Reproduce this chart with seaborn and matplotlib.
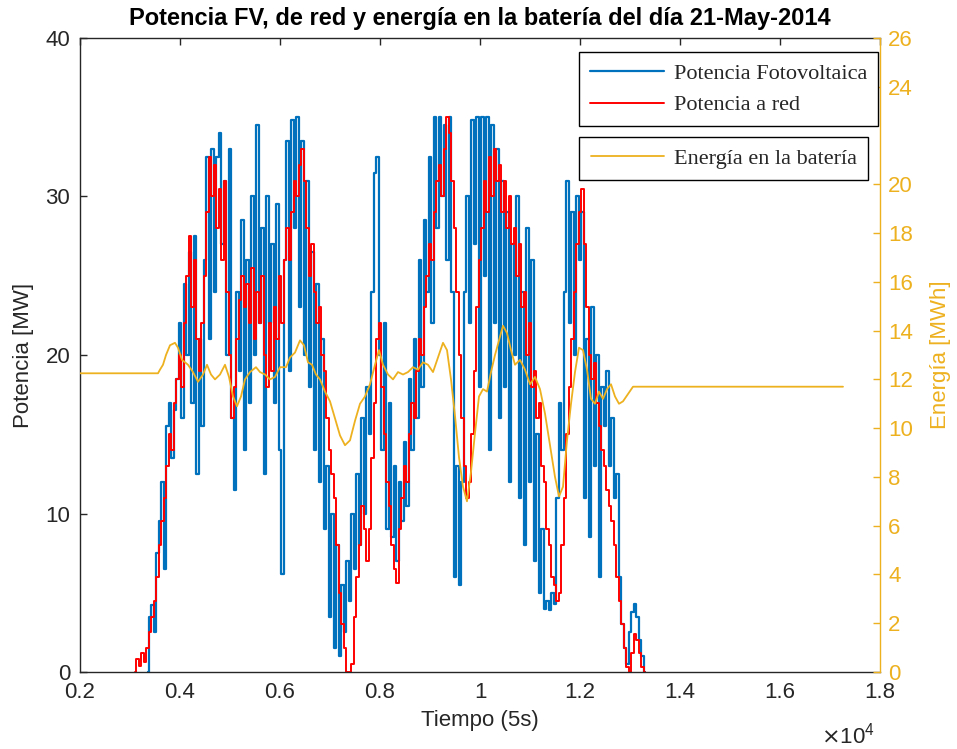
import numpy as np
import matplotlib
matplotlib.use("Agg")
import matplotlib.pyplot as plt
import seaborn as sns
from matplotlib.font_manager import FontProperties

# ---------------- data ----------------
pv_start, pv_step = 3350, 50
pv_power = [0, 3.5, 4.2, 2.5, 7.5, 9.5, 12, 6.5, 15.5, 17,
            13.5, 16.5, 18.5, 22, 16, 24.5, 20, 26.5, 17, 27.5,
            12.5, 21, 15.5, 26, 32.5, 21, 33, 24, 32.5, 34,
            27, 31, 20, 33, 16, 11.5, 24, 19, 28.5, 14,
            26, 17, 30, 20, 34.5, 22, 28, 12.5, 30, 22,
            27, 17, 29.5, 14, 6.2, 26, 33.5, 19, 34.8, 28,
            35, 23, 33.5, 20, 31, 18, 26.5, 14, 24.5, 12,
            21, 9, 13, 3.5, 10, 1.5, 8, 1, 5.5, 2.5,
            7, 4.5, 10, 6.5, 12.5, 8, 16, 10, 18, 15,
            24, 31.5, 32.5, 20, 14, 22, 9, 17, 8.5, 13,
            7, 12, 9.5, 14.5, 10.5, 18.5, 14, 21, 16, 26,
            18, 28.5, 24, 32.5, 22, 35, 28, 35, 30, 34.5,
            26, 35, 24, 6, 13, 5.5, 12, 24, 30, 22,
            34.8, 27, 35, 18, 35, 25, 35, 14, 34.5, 22,
            33, 16, 31, 18, 29, 12, 27, 20, 30, 11,
            24, 8, 28, 12, 26, 7, 15, 5, 9, 4,
            4.5, 3.9, 5, 4.3, 11, 17, 14, 24, 31, 22,
            29, 20, 30, 26, 29, 11, 21, 8.5, 23, 13,
            20, 6, 18, 15.5, 19, 13, 16, 11, 12.5, 6,
            3, 1.5, 0.5, 2.5, 3.8, 4.3, 3.5, 2, 1, 0]

grid_start, grid_step = 3100, 50
grid_power = [0, 0.8, 0.4, 1.2, 0.6, 1.5, 2.5, 3.5, 4.5, 6,
              8, 9.5, 11, 13, 15, 14, 17, 18.5, 20, 18,
              22, 25, 27.5, 23, 26, 21, 19, 22, 25, 29,
              32.5, 30, 32, 28, 30.5, 26, 31, 24, 20, 16,
              18, 21, 23.5, 25, 23, 24.5, 22, 25.5, 21, 24,
              22, 25, 20, 18, 22, 19, 23, 21, 25, 22,
              26, 28, 26, 29, 31, 30, 32, 33, 31, 28,
              25, 27, 24, 22, 23, 20, 19, 16, 14, 12.5,
              11, 8, 5, 3, 1.5, 0, 0, 0.5, 3.5, 6,
              8, 10.5, 9, 7, 9, 13.5, 17, 21, 22, 18,
              15, 12, 10.5, 8, 6.5, 5.6, 9, 11, 13, 12,
              15, 17, 16, 19, 21, 20, 23, 25, 27, 26,
              29, 31, 32, 30, 33, 35, 34, 31, 28, 24,
              20, 16, 13, 11, 12, 15, 19, 23, 26, 28,
              31, 29, 32.5, 30, 33, 31, 32, 29, 31, 28,
              30, 27, 28, 25, 27, 23, 24, 20, 22, 18,
              19, 16, 17, 13, 12, 9, 8, 6, 5.5, 4.5,
              5, 8, 11, 15, 18, 21, 24, 27, 29, 30.5,
              27, 23, 20, 18.5, 19.5, 17, 15.5, 14, 13, 11.5,
              10.5, 9.5, 8, 6, 4.5, 3, 1.5, 0.3, 0, 1.2,
              2.4, 2.0, 1.2, 0.3, 0]

energy_time = [2000, 3560, 3600, 3660, 3720, 3800, 3900, 3960, 4040, 4160,
               4260, 4360, 4460, 4540, 4620, 4700, 4800, 4900, 4980, 5060,
               5140, 5220, 5300, 5400, 5520, 5600, 5700, 5800, 5900, 6000,
               6120, 6200, 6300, 6400, 6480, 6560, 6640, 6720, 6800, 6900,
               7000, 7100, 7200, 7300, 7400, 7500, 7600, 7700, 7800, 7900,
               7980, 8060, 8160, 8260, 8360, 8460, 8560, 8660, 8760, 8860,
               8960, 9060, 9160, 9260, 9340, 9420, 9500, 9580, 9660, 9740,
               9820, 9900, 9980, 10060, 10140, 10220, 10300, 10380, 10460, 10540,
               10620, 10700, 10800, 10900, 11000, 11100, 11200, 11300, 11400, 11500,
               11580, 11660, 11740, 11820, 11900, 11980, 12060, 12140, 12220, 12300,
               12380, 12460, 12540, 12620, 12700, 12780, 12860, 12960, 13060, 17260]
battery_energy = [12.25, 12.25, 12.4, 12.6, 13.0, 13.4, 13.5, 13.3, 12.8, 12.6,
                  12.3, 11.9, 12.2, 12.6, 12.2, 12.0, 12.2, 12.6, 12.1, 11.3,
                  10.9, 11.3, 12.0, 12.3, 12.5, 12.3, 12.2, 12.0, 12.1, 12.5,
                  12.5, 12.9, 13.1, 13.6, 13.4, 12.7, 12.6, 12.2, 12.0, 11.5,
                  11.1, 10.4, 9.7, 9.3, 9.5, 10.3, 11.0, 11.3, 11.8, 12.6,
                  13.2, 12.6, 12.2, 12.0, 12.3, 12.2, 12.3, 12.5, 12.4, 12.7,
                  12.6, 12.3, 12.9, 13.5, 13.2, 12.0, 10.5, 8.8, 7.6, 7.0,
                  8.2, 9.8, 11.3, 11.6, 11.5, 12.3, 13.0, 13.6, 14.2, 13.9,
                  13.2, 12.6, 12.8, 12.4, 11.8, 12.1, 11.6, 10.6, 9.3, 8.0,
                  7.2, 7.6, 9.5, 11.0, 12.3, 13.3, 13.2, 12.4, 11.2, 11.0,
                  11.5, 11.2, 11.6, 11.8, 11.3, 11.0, 11.1, 11.4, 11.7, 11.7]

x_ticks = [2000, 4000, 6000, 8000, 10000, 12000, 14000, 16000, 18000]
x_tick_labels = ["0.2", "0.4", "0.6", "0.8", "1", "1.2", "1.4", "1.6", "1.8"]
left_ticks = [0, 10, 20, 30, 40]
right_ticks = [0, 2, 4, 6, 8, 10, 12, 14, 16, 18, 20, 24, 26]

labels = ["Potencia Fotovoltaica", "Potencia a red", "Energía en la batería"]
title = "Potencia FV, de red y energía en la batería del día 21-May-2014"

# ---------------- style ----------------
sns.set_style("white")
plt.rcParams["font.family"] = ["Liberation Sans", "DejaVu Sans"]
plt.rcParams["axes.unicode_minus"] = False

BLUE = "#0072BD"
RED = "#FF0000"
YEL = "#EDB120"
GRAY = "#262626"
FS = 16

fig = plt.figure(figsize=(9.57, 7.49), dpi=100)
ax = fig.add_axes([80 / 957, 1 - 672 / 749, 800 / 957, 634 / 749])
ax2 = ax.twinx()

pv_time = pv_start + pv_step * np.arange(len(pv_power))
grid_time = grid_start + grid_step * np.arange(len(grid_power))

sns.lineplot(x=pv_time, y=pv_power, ax=ax, color=BLUE, linewidth=1.6,
             drawstyle="steps-mid", legend=False, estimator=None)
sns.lineplot(x=grid_time, y=grid_power, ax=ax, color=RED, linewidth=1.4,
             drawstyle="steps-mid", legend=False, estimator=None)
sns.lineplot(x=energy_time, y=battery_energy, ax=ax2, color=YEL, linewidth=1.3,
             legend=False, estimator=None)

ax.set_xlim(2000, 18000)
ax.set_ylim(0, 40)
ax2.set_ylim(0, 26)
ax.set_xticks(x_ticks)
ax.set_xticklabels(x_tick_labels)
ax.set_yticks(left_ticks)
ax2.set_yticks(right_ticks)

ax2.set_facecolor("none")
ax.set_facecolor("white")

for s in ("left", "bottom", "top"):
    ax.spines[s].set_color(GRAY)
    ax.spines[s].set_linewidth(1.0)
ax.spines["right"].set_visible(False)
for s in ("left", "bottom", "top"):
    ax2.spines[s].set_visible(False)
ax2.spines["right"].set_color(YEL)
ax2.spines["right"].set_linewidth(1.0)

ax.tick_params(axis="x", direction="in", length=5, width=1, colors=GRAY,
               labelsize=FS, top=True, pad=7)
ax.tick_params(axis="y", direction="in", length=5, width=1, colors=GRAY,
               labelsize=FS, pad=7)
ax2.tick_params(axis="y", direction="in", length=5, width=1, colors=YEL,
                labelsize=FS, labelcolor=YEL, pad=6)

ax.set_xlabel("Tiempo (5s)", fontsize=FS, color=GRAY, labelpad=5)
ax.set_ylabel("Potencia [MW]", fontsize=FS, color=GRAY, labelpad=8)
ax2.set_ylabel("Energía [MWh]", fontsize=FS, color=YEL, labelpad=12)
ax.set_title(title, fontsize=17, fontweight="bold", color="black", pad=9)

fig.text(848 / 957, 1 - 736 / 749, r"$\times\mathregular{10^{4}}$",
         fontsize=FS, color=GRAY, ha="center", va="center")

lp = FontProperties(family="Liberation Serif", size=FS)
h_blue, h_red = ax.get_lines()[0], ax.get_lines()[1]
h_yel = ax2.get_lines()[0]
leg1 = ax2.legend([h_blue, h_red], labels[:2], loc="upper right",
                  bbox_to_anchor=(0.9975, 0.978), prop=lp, frameon=True,
                  fancybox=False, edgecolor="black", handlelength=3.3,
                  handletextpad=0.45, borderaxespad=0, labelspacing=0.5,
                  borderpad=0.5, framealpha=1)
leg1.get_frame().set_linewidth(1.0)
ax2.add_artist(leg1)
leg2 = ax2.legend([h_yel], labels[2:], loc="upper right",
                  bbox_to_anchor=(0.985, 0.844), prop=lp, frameon=True,
                  fancybox=False, edgecolor="black", handlelength=3.3,
                  handletextpad=0.45, borderaxespad=0, borderpad=0.5,
                  framealpha=1)
leg2.get_frame().set_linewidth(1.0)

fig.savefig("out.png", dpi=100)
